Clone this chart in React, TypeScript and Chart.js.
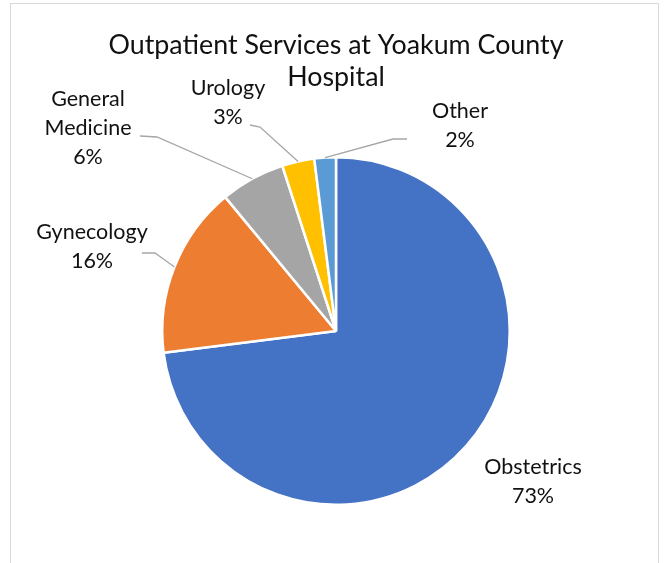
import React, { useEffect, useRef } from "react";
import { Chart, registerables } from "chart.js";

Chart.register(...registerables);

const categories = ["Obstetrics", "Gynecology", "General Medicine", "Urology", "Other"];
const values = [73, 16, 6, 3, 2];
const labelLines = [["Obstetrics"], ["Gynecology"], ["General", "Medicine"], ["Urology"], ["Other"]];
const colors = ["#4472C4", "#ED7D31", "#A5A5A5", "#FFC000", "#5B9BD5"];
const titleLines = ["Outpatient Services at Yoakum County", "Hospital"];

// layout of the data labels (text block centre) and leader line start/elbow
const labelCenters: [number, number][] = [
  [533, 482],
  [92, 247],
  [88, 128],
  [228, 103],
  [460, 126],
];
const leaders: ([number, number][] | null)[] = [
  null,
  [[142, 253], [155, 253]],
  [[140, 136], [157, 137]],
  [[250, 125], [260, 127]],
  [[407, 139], [393, 139]],
];

const FONT = "Lato, 'Open Sans', sans-serif";

const labelPlugin = {
  id: "excelLabels",
  afterDraw(chart: any) {
    const ctx = chart.ctx;
    ctx.save();
    // outer frame
    ctx.strokeStyle = "#D9D9D9";
    ctx.lineWidth = 1;
    ctx.strokeRect(10.5, 3.5, 648, 620);
    // title
    ctx.fillStyle = "#111111";
    ctx.font = `26.8px ${FONT}`;
    ctx.textAlign = "center";
    ctx.textBaseline = "middle";
    ctx.fillText(titleLines[0], 336, 45);
    ctx.fillText(titleLines[1], 336, 77);

    const meta = chart.getDatasetMeta(0);
    const total = values.reduce((a, b) => a + b, 0);
    meta.data.forEach((arc: any, i: number) => {
      const { x, y, startAngle, endAngle, outerRadius } = arc.getProps(
        ["x", "y", "startAngle", "endAngle", "outerRadius"],
        true
      );
      const mid = (startAngle + endAngle) / 2;
      const ax = x + Math.cos(mid) * outerRadius;
      const ay = y + Math.sin(mid) * outerRadius;
      const ld = leaders[i];
      if (ld) {
        ctx.strokeStyle = "#A6A6A6";
        ctx.lineWidth = 1.3;
        ctx.beginPath();
        ctx.moveTo(ld[0][0], ld[0][1]);
        ctx.lineTo(ld[1][0], ld[1][1]);
        ctx.lineTo(ax, ay);
        ctx.stroke();
      }
      const pct = Math.round((values[i] / total) * 100) + "%";
      const lines = [...labelLines[i], pct];
      const lh = 29;
      const [cx, cy] = labelCenters[i];
      ctx.fillStyle = "#111111";
      ctx.font = `21.5px ${FONT}`;
      lines.forEach((t, k) => {
        ctx.fillText(t, cx, cy + (k - (lines.length - 1) / 2) * lh);
      });
    });
    ctx.restore();
  },
};

export default function App() {
  const ref = useRef<HTMLCanvasElement>(null);
  useEffect(() => {
    document.body.style.margin = "0";
    const chart = new Chart(ref.current!, {
      type: "pie",
      data: {
        labels: categories,
        datasets: [
          {
            data: values,
            backgroundColor: colors,
            borderColor: "#FFFFFF",
            borderWidth: 2.5,
          },
        ],
      },
      options: {
        animation: false,
        responsive: false,
        layout: { padding: { left: 161, right: 155, top: 156, bottom: 57 } },
        plugins: {
          legend: { display: false },
          tooltip: { enabled: false },
          title: { display: false },
        },
      },
      plugins: [labelPlugin],
    });
    return () => chart.destroy();
  }, []);
  return (
    <div style={{ width: 666, height: 563, background: "#fff" }}>
      <canvas ref={ref} width={666} height={563} />
    </div>
  );
}
